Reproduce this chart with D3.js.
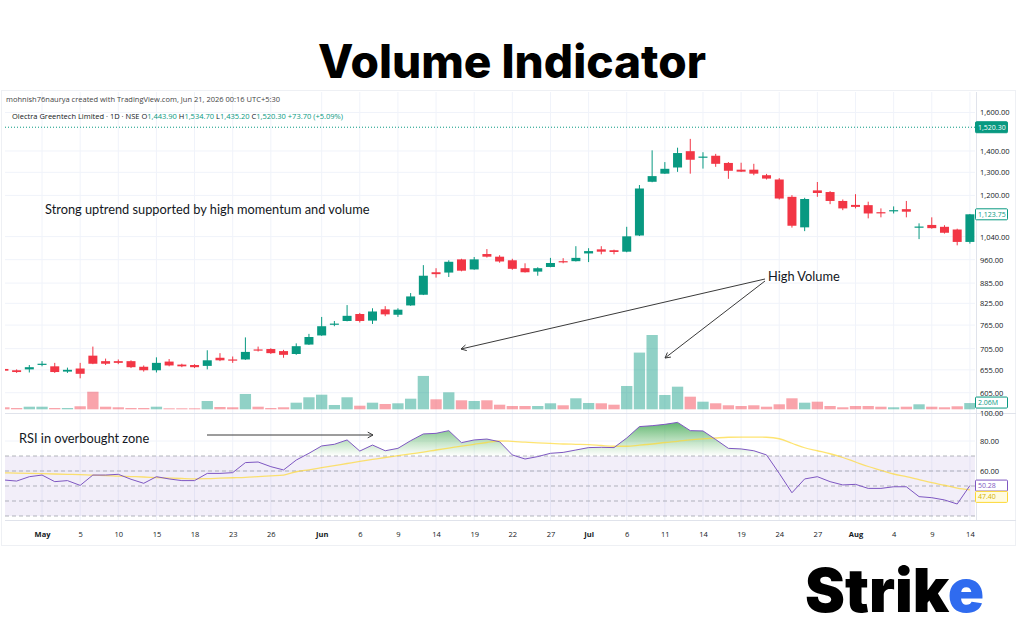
<!DOCTYPE html>
<html>
<head>
<meta charset="utf-8">
<script src="https://cdn.jsdelivr.net/npm/d3@7"></script>
<style>
  body { margin: 0; background: #fff; }
  svg { display: block; font-family: 'Open Sans', sans-serif; }
</style>
</head>
<body>
<svg></svg>
<script>
// daily candles, Olectra Greentech (NSE)
const opens = [657, 654, 656, 668, 663, 651, 658, 688, 675, 675,
  675, 662, 654, 674, 667, 666, 664, 683, 679, 679,
  703, 704, 699, 692, 715, 738, 767, 776, 795, 777,
  808, 793, 819, 850, 919, 918, 961, 928, 979, 970,
  958, 932, 921, 936, 955, 955, 981, 995, 992, 987,
  1044, 1258, 1294, 1322, 1399, 1370, 1377, 1343, 1312, 1312,
  1287, 1268, 1194, 1074, 1221, 1214, 1177, 1161, 1160, 1132,
  1138, 1144, 1074, 1083, 1076, 1066, 1021];
const highs = [660, 656, 666, 675, 671, 660, 671, 710, 681, 679,
  677, 665, 684, 680, 669, 668, 701, 694, 686, 733,
  710, 706, 702, 718, 742, 787, 776, 820, 798, 811,
  817, 811, 855, 942, 932, 958, 963, 969, 996, 975,
  963, 948, 935, 966, 965, 1006, 999, 1006, 994, 1076,
  1244, 1403, 1347, 1416, 1460, 1394, 1386, 1347, 1344, 1339,
  1293, 1274, 1201, 1190, 1257, 1218, 1183, 1205, 1174, 1147,
  1155, 1177, 1089, 1112, 1082, 1069, 1125];
const lows = [650, 648, 649, 663, 648, 648, 636, 668, 666, 668,
  659, 651, 649, 663, 661, 659, 656, 675, 671, 678,
  698, 692, 683, 690, 714, 737, 762, 775, 772, 768,
  789, 787, 818, 849, 902, 904, 922, 927, 967, 950,
  927, 918, 908, 935, 948, 954, 952, 978, 978, 985,
  1042, 1256, 1293, 1302, 1294, 1317, 1325, 1271, 1301, 1287,
  1268, 1183, 1073, 1060, 1194, 1164, 1140, 1147, 1108, 1112,
  1127, 1112, 1031, 1069, 1051, 1009, 1015];
const closes = [653, 650, 661, 669, 650, 655, 646, 669, 669, 671,
  661, 654, 671, 665, 663, 661, 677, 677, 678, 697,
  701, 694, 690, 711, 734, 762, 769, 790, 776, 802,
  794, 807, 845, 908, 913, 953, 924, 961, 970, 954,
  930, 919, 932, 949, 951, 966, 989, 987, 986, 1041,
  1229, 1283, 1316, 1390, 1358, 1373, 1339, 1307, 1303, 1294,
  1272, 1187, 1080, 1185, 1210, 1177, 1147, 1153, 1127, 1130,
  1140, 1134, 1077, 1071, 1054, 1021, 1123.75];
// volume in millions
const volumes = [0.66, 0.43, 0.86, 0.86, 0.43, 0.43, 1.0, 5.8, 0.86, 0.66,
  0.43, 0.43, 0.86, 0.33, 0.33, 0.33, 2.74, 0.76, 0.66, 5.05,
  0.86, 0.43, 0.66, 2.18, 3.96, 4.82, 1.42, 3.96, 1.19, 2.18,
  1.75, 1.98, 3.5, 11.0, 3.3, 5.6, 2.97, 2.74, 2.97, 1.52,
  1.09, 1.09, 1.09, 1.98, 1.32, 3.63, 2.08, 1.98, 1.52, 7.69,
  18.7, 24.5, 4.72, 7.46, 4.16, 2.51, 1.98, 1.32, 1.09, 1.32,
  0.86, 1.65, 3.63, 2.18, 2.51, 1.09, 0.66, 1.09, 1.09, 0.86,
  0.66, 0.86, 1.65, 0.86, 0.66, 0.99, 2.06];
const rsi = [54, 53.3, 56.2, 57.3, 52.9, 53.6, 50.4, 57.3, 57.3, 57.8,
  54.5, 51.8, 56.2, 54.7, 53.6, 53.6, 58.4, 58.4, 58.9, 65.6,
  66, 62.9, 60.7, 67.3, 71.8, 76.7, 77.8, 80.7, 73.3, 77.3,
  73.5, 75.1, 80.2, 84.7, 85.1, 86.9, 78.9, 80.7, 81.3, 79.5,
  70.7, 68, 69.6, 71.8, 72.4, 74, 75.6, 75.8, 75.6, 82,
  89.6, 90.2, 91.1, 92.4, 86.9, 86.7, 81, 75.1, 74.7, 73.5,
  70.7, 58.4, 45.5, 54.7, 56.2, 52.9, 50.7, 51.1, 48.4, 48.4,
  49.5, 49.5, 42.9, 42.2, 40.7, 38, 50.28];
const rsiMa = [58.8, 58.6, 58.4, 58.2, 58, 57.8, 57.6, 57.2, 57, 56.6,
  56.3, 56, 55.6, 55.3, 55, 54.8, 54.9, 55.2, 55.5, 55.8,
  56.3, 56.8, 57.3, 59.5, 60.8, 62.2, 63.6, 65, 66.4, 67.7,
  69, 70.2, 71.4, 72.6, 74, 75.3, 76.6, 77.8, 79, 80,
  79.8, 79.2, 78.8, 78.4, 78, 77.8, 77.6, 77, 76.5, 76.5,
  77.2, 78, 79, 79.8, 80.7, 81.4, 82, 82.5, 82.6, 82.6,
  82.5, 81.5, 78.5, 75.5, 73.5, 71.5, 69, 66, 63, 60.5,
  58, 56.2, 54.2, 52.2, 50.5, 48.6, 47.4];

const xTickIdx = [3, 6, 9, 12, 15, 18, 21, 25, 28, 31, 34, 37, 40, 43, 46, 49, 52, 55, 58, 61, 64, 67, 70, 73, 76];
const xTickLabels = ['May', '5', '10', '15', '18', '23', '26', 'Jun', '6', '9', '14', '19', '22', '27',
  'Jul', '6', '11', '14', '19', '24', '27', 'Aug', '4', '9', '14'];
const monthLabels = ['May', 'Jun', 'Jul', 'Aug'];
const priceTicks = [1600, 1400, 1300, 1200, 1040, 960, 885, 825, 765, 705, 655, 605];
const rsiTicks = [80, 60];
const rsiLevels = [70, 60, 50, 40, 30];
const lastPrice = 1520.30;

const svg = d3.select('svg')
	.attr('width', 1024)
	.attr('height', 640);

const up = '#089981', down = '#f23645', gridColor = '#f0f3fa', lineColor = '#e0e3eb';
const plotL = 5, plotR = 975, plotT = 92, mainB = 413, rsiB = 520, axisB = 545;

const x = d3.scaleLinear().domain([0, closes.length - 1]).range([3.9, 969.9]);
const y = d3.scaleLog().domain([605, 1600]).range([392.7, 112.5]);
const yVol = d3.scaleLinear().domain([0, 24.5]).range([409.3, 335]);
const yRsi = d3.scaleLinear().domain([30, 80]).range([516, 441]);
const step = x(1) - x(0);
const idx = d3.range(closes.length);
const isUp = i => closes[i] >= opens[i];

const defs = svg.append('defs');
defs.append('clipPath').attr('id', 'mainClip').append('rect')
	.attr('x', plotL).attr('y', plotT).attr('width', plotR - plotL).attr('height', mainB - plotT);
defs.append('clipPath').attr('id', 'rsiClip').append('rect')
	.attr('x', plotL).attr('y', mainB + 1).attr('width', plotR - plotL).attr('height', rsiB - mainB - 1);
defs.append('clipPath').attr('id', 'obClip').append('rect')
	.attr('x', plotL).attr('y', mainB + 1).attr('width', plotR - plotL).attr('height', yRsi(70) - mainB - 1);
const grad = defs.append('linearGradient').attr('id', 'obFill')
	.attr('gradientUnits', 'userSpaceOnUse')
	.attr('x1', 0).attr('x2', 0).attr('y1', yRsi(95)).attr('y2', yRsi(70));
grad.append('stop').attr('offset', 0).attr('stop-color', '#2e9e45').attr('stop-opacity', 0.85);
grad.append('stop').attr('offset', 1).attr('stop-color', '#4caf50').attr('stop-opacity', 0);

// title
svg.append('text')
	.attr('x', 512).attr('y', 78)
	.attr('text-anchor', 'middle')
	.attr('font-family', 'Inter, sans-serif')
	.attr('font-weight', 800)
	.attr('font-size', 46)
	.attr('fill', '#000')
	.text('Volume Indicator');

// frame + grid
const chart = svg.append('g');
chart.append('rect')
	.attr('x', 1.5).attr('y', 90.5).attr('width', 1014).attr('height', axisB - 90)
	.attr('fill', '#fff').attr('stroke', '#eef0f4');

const grid = chart.append('g').attr('stroke', gridColor);
grid.selectAll('.vgrid').data(xTickIdx).enter().append('line')
	.attr('x1', d => x(d)).attr('x2', d => x(d))
	.attr('y1', plotT).attr('y2', rsiB);
grid.selectAll('.hgrid').data(priceTicks).enter().append('line')
	.attr('x1', plotL).attr('x2', plotR)
	.attr('y1', d => y(d)).attr('y2', d => y(d));
grid.selectAll('.rgrid').data(rsiTicks).enter().append('line')
	.attr('x1', plotL).attr('x2', plotR)
	.attr('y1', d => yRsi(d)).attr('y2', d => yRsi(d));

chart.append('line').attr('stroke', lineColor)
	.attr('x1', plotL).attr('x2', 1016).attr('y1', mainB + 0.5).attr('y2', mainB + 0.5);
chart.append('line').attr('stroke', lineColor)
	.attr('x1', plotL).attr('x2', 1016).attr('y1', rsiB + 0.5).attr('y2', rsiB + 0.5);
chart.append('line').attr('stroke', lineColor)
	.attr('x1', plotR + 1.5).attr('x2', plotR + 1.5).attr('y1', plotT).attr('y2', rsiB);

// header
const header = chart.append('g').attr('font-size', 7.5);
header.append('text')
	.attr('x', 6).attr('y', 102).attr('fill', '#444')
	.text('mohnish76naurya created with TradingView.com, Jun 21, 2026 00:16 UTC+5:30');
const legend = header.append('text').attr('x', 12).attr('y', 119).attr('fill', '#131722');
legend.append('tspan').text('Olectra Greentech Limited · 1D · NSE  ');
[['O', '1,443.90'], ['H', '1,534.70'], ['L', '1,435.20'], ['C', '1,520.30']].forEach(([k, v]) => {
	legend.append('tspan').text(k);
	legend.append('tspan').attr('fill', up).text(v + '  ');
});
legend.append('tspan').attr('fill', up).text('+73.70 (+5.09%)');

// main pane
const main = chart.append('g').attr('clip-path', 'url(#mainClip)');

main.selectAll('.vol').data(idx).enter().append('rect')
	.attr('x', i => x(i) - step / 2 + 0.7)
	.attr('width', step - 1.4)
	.attr('y', i => yVol(volumes[i]))
	.attr('height', i => yVol(0) - yVol(volumes[i]))
	.attr('fill', i => isUp(i) ? up : down)
	.attr('opacity', 0.45);

main.append('line')
	.attr('x1', plotL).attr('x2', plotR)
	.attr('y1', y(lastPrice)).attr('y2', y(lastPrice))
	.attr('stroke', up).attr('stroke-dasharray', '1,2');

main.selectAll('.wick').data(idx).enter().append('line')
	.attr('x1', i => x(i)).attr('x2', i => x(i))
	.attr('y1', i => y(highs[i])).attr('y2', i => y(lows[i]))
	.attr('stroke', i => isUp(i) ? up : down);

main.selectAll('.body').data(idx).enter().append('rect')
	.attr('x', i => x(i) - 4.5)
	.attr('width', 9)
	.attr('y', i => y(Math.max(opens[i], closes[i])))
	.attr('height', i => Math.max(1.2, Math.abs(y(opens[i]) - y(closes[i]))))
	.attr('fill', i => isUp(i) ? up : down);

// rsi pane
const rsiG = chart.append('g').attr('clip-path', 'url(#rsiClip)');
rsiG.append('rect')
	.attr('x', plotL).attr('width', plotR - plotL)
	.attr('y', yRsi(70)).attr('height', yRsi(30) - yRsi(70))
	.attr('fill', '#7e57c2').attr('opacity', 0.1);
rsiG.selectAll('.lvl').data(rsiLevels).enter().append('line')
	.attr('x1', plotL).attr('x2', plotR)
	.attr('y1', d => yRsi(d)).attr('y2', d => yRsi(d))
	.attr('stroke', '#9598a1').attr('stroke-dasharray', '4,3').attr('opacity', 0.7);

const obArea = d3.area()
	.x(i => x(i))
	.y0(yRsi(70))
	.y1(i => yRsi(rsi[i]));
rsiG.append('path')
	.attr('clip-path', 'url(#obClip)')
	.attr('d', obArea(idx))
	.attr('fill', 'url(#obFill)');

const maLine = d3.line().x(i => x(i)).y(i => yRsi(rsiMa[i])).curve(d3.curveMonotoneX);
rsiG.append('path')
	.attr('d', maLine(idx))
	.attr('fill', 'none').attr('stroke', '#fdd835').attr('stroke-width', 1.3).attr('opacity', 0.7);

const rsiLine = d3.line().x(i => x(i)).y(i => yRsi(rsi[i]));
rsiG.append('path')
	.attr('d', rsiLine(idx))
	.attr('fill', 'none').attr('stroke', '#7e57c2').attr('stroke-width', 1);

// axes
const axisFont = g => g.attr('font-family', "'Open Sans', sans-serif").attr('font-size', 7.5);

const yAxisG = chart.append('g')
	.attr('transform', `translate(${plotR + 1}, 0)`)
	.call(d3.axisRight(y).tickValues(priceTicks).tickFormat(d3.format(',.2f')).tickSize(0).tickPadding(4))
	.call(axisFont);
yAxisG.select('.domain').remove();
yAxisG.selectAll('text').attr('fill', '#131722');

const rsiAxisG = chart.append('g')
	.attr('transform', `translate(${plotR + 1}, 0)`)
	.call(d3.axisRight(yRsi).tickValues([100, ...rsiTicks]).tickFormat(d3.format('.2f')).tickSize(0).tickPadding(4))
	.call(axisFont);
rsiAxisG.select('.domain').remove();
rsiAxisG.selectAll('text').attr('fill', '#131722').attr('dy', (d, i) => i === 0 ? '0.6em' : '0.32em');

const xAxisG = chart.append('g')
	.attr('transform', `translate(0, ${rsiB + 9})`)
	.call(d3.axisBottom(x).tickValues(xTickIdx).tickFormat((d, i) => xTickLabels[i]).tickSize(0))
	.call(axisFont);
xAxisG.select('.domain').remove();
xAxisG.selectAll('text')
	.attr('fill', '#131722')
	.attr('font-weight', d => monthLabels.includes(xTickLabels[xTickIdx.indexOf(d)]) ? 700 : 400);

// value tags on the price scale
const tag = (yPos, label, fill, stroke, color) => {
	const t = chart.append('g').attr('transform', `translate(${plotR}, ${yPos})`);
	t.append('rect').attr('x', 0.5).attr('y', -5.5).attr('width', 32).attr('height', 11)
		.attr('fill', fill).attr('stroke', stroke).attr('rx', 1);
	t.append('text').attr('x', 3).attr('dy', '0.35em')
		.attr('font-size', 7).attr('fill', color).text(label);
};
tag(y(lastPrice), d3.format(',.2f')(lastPrice), up, up, '#fff');
tag(y(closes[closes.length - 1]), d3.format(',.2f')(closes[closes.length - 1]), '#fff', up, up);
tag(yVol(volumes[volumes.length - 1]) - 0.5, volumes[volumes.length - 1].toFixed(2) + 'M', '#fff', up, up);
tag(yRsi(rsi[rsi.length - 1]), rsi[rsi.length - 1].toFixed(2), '#fff', '#7e57c2', '#7e57c2');
tag(yRsi(rsiMa[rsiMa.length - 1]) + 7, rsiMa[rsiMa.length - 1].toFixed(2), '#fffbe0', '#fdd835', '#d4b300');

// annotations
const ann = chart.append('g')
	.attr('font-family', 'Lato, sans-serif').attr('font-size', 12.8).attr('fill', '#131722');
ann.append('text').attr('x', 45).attr('y', 214).text('Strong uptrend supported by high momentum and volume');
ann.append('text').attr('x', 768).attr('y', 281).text('High Volume');
ann.append('text').attr('x', 19).attr('y', 443).text('RSI in overbought zone');

const arrow = (x1, y1, x2, y2) => {
	const a = Math.atan2(y1 - y2, x1 - x2), len = 6;
	const g = chart.append('g').attr('stroke', '#3a3a3a').attr('stroke-width', 1).attr('fill', 'none');
	g.append('line').attr('x1', x1).attr('y1', y1).attr('x2', x2).attr('y2', y2);
	g.append('path').attr('d', `M${x2 + len * Math.cos(a - 0.5)},${y2 + len * Math.sin(a - 0.5)}L${x2},${y2}L${x2 + len * Math.cos(a + 0.5)},${y2 + len * Math.sin(a + 0.5)}`);
};
arrow(765, 279, 461, 349);
arrow(765, 281, 665, 358);
arrow(207, 435, 373, 435);

// brand mark
const logo = svg.append('text')
	.attr('x', 805).attr('y', 612)
	.attr('font-family', 'Inter, sans-serif').attr('font-weight', 900).attr('font-size', 60)
	.attr('fill', '#000');
logo.append('tspan').text('Strik');
logo.append('tspan').attr('fill', '#2f6bef').text('e');
</script>
</body>
</html>
